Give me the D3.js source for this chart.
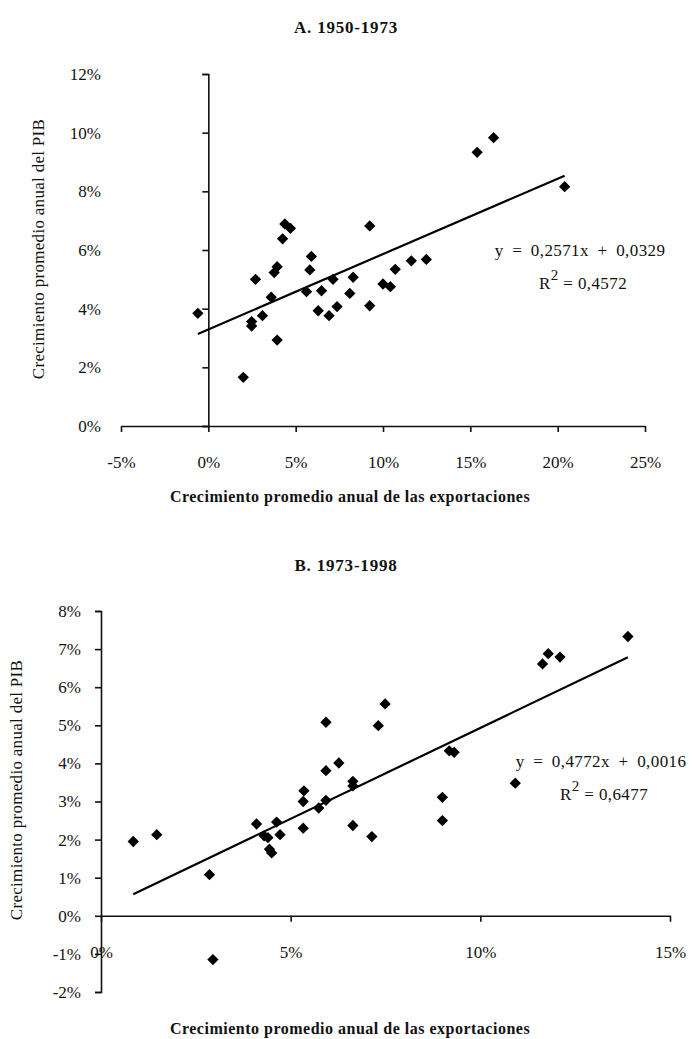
<!DOCTYPE html>
<html>
<head>
<meta charset="utf-8">
<script src="https://cdn.jsdelivr.net/npm/d3@7"></script>
<style>
  body { margin: 0; background: #fff; }
  svg text { font-family: "Liberation Serif", "Times New Roman", serif; fill: #111; }
</style>
</head>
<body>
<svg id="chart" width="692" height="1039"></svg>
<script>
// panel A: 1950-1973 (values in %)
const exportsA = [-0.6, 2.0, 2.48, 2.48, 2.7, 3.1, 3.6, 3.77, 3.94, 3.94, 4.25, 4.38, 4.7, 5.62, 5.81, 5.9, 6.29, 6.48, 6.91, 7.14, 7.37, 8.1, 8.29, 9.24, 9.24, 10.0, 10.42, 10.7, 11.62, 12.48, 15.39, 16.33, 20.4];
const gdpA     = [3.84, 1.66, 3.56, 3.41, 5.0, 3.76, 4.39, 5.23, 5.43, 2.93, 6.38, 6.89, 6.74, 4.58, 5.32, 5.78, 3.93, 4.61, 3.76, 5.0, 4.07, 4.52, 5.07, 6.82, 4.1, 4.84, 4.75, 5.34, 5.63, 5.68, 9.33, 9.83, 8.16];
const trendA = [0.2571, 0.0329];
const r2A = '0,4572';
const xTicksA = [-5, 0, 5, 10, 15, 20, 25];
const yTicksA = [0, 2, 4, 6, 8, 10, 12];

// panel B: 1973-1998 (values in %)
const exportsB = [0.85, 1.47, 2.86, 2.95, 4.1, 4.3, 4.4, 4.44, 4.5, 4.63, 4.72, 5.33, 5.33, 5.35, 5.74, 5.93, 5.93, 5.93, 6.27, 6.64, 6.64, 6.64, 7.14, 7.31, 7.49, 9.0, 9.0, 9.18, 9.31, 10.92, 11.64, 11.79, 12.1, 13.89];
const gdpB     = [1.95, 2.13, 1.08, -1.15, 2.41, 2.1, 2.05, 1.75, 1.65, 2.46, 2.13, 2.3, 3.0, 3.28, 2.83, 3.03, 3.81, 5.08, 4.01, 3.53, 3.41, 2.37, 2.08, 4.99, 5.56, 3.11, 2.5, 4.33, 4.29, 3.48, 6.61, 6.88, 6.79, 7.33];
const trendB = [0.4772, 0.0016];
const r2B = '0,6477';
const xTicksB = [0, 5, 10, 15];
const yTicksB = [-2, -1, 0, 1, 2, 3, 4, 5, 6, 7, 8];

const yTitle = 'Crecimiento promedio anual del PIB';
const xTitle = 'Crecimiento promedio anual de las exportaciones';

const svg = d3.select('#chart');
const pct = d => d + '%';
const comma = v => v.toFixed(4).replace('.', ',');

function panel(opt) {
  const { xs, ys, trend, r2, x, y, xTicks, yTicks } = opt;
  const g = svg.append('g');

  // title
  g.append('text')
    .attr('x', 346).attr('y', opt.titleY)
    .attr('text-anchor', 'middle')
    .style('font-size', '17px').style('font-weight', 'bold')
    .style('letter-spacing', '0.8px')
    .text(opt.title);

  // y axis line + tick marks (crosses at x = 0)
  g.append('g')
    .attr('transform', `translate(${x(0)},0)`)
    .call(d3.axisLeft(y).tickValues(yTicks).tickSize(6).tickFormat(''))
    .call(a => a.selectAll('path, line').attr('stroke', '#111').attr('stroke-width', 1.6));

  // y tick labels at the low end of the x range
  g.append('g')
    .attr('transform', `translate(${x(x.domain()[0])},0)`)
    .call(d3.axisLeft(y).tickValues(yTicks).tickSize(0).tickPadding(20).tickFormat(pct))
    .call(a => a.select('.domain').remove())
    .call(a => a.selectAll('text').style('font-size', '17px').style('font-family', '"Liberation Serif", serif'));

  // x axis line + tick marks (crosses at y = 0)
  g.append('g')
    .attr('transform', `translate(0,${y(0)})`)
    .call(d3.axisBottom(x).tickValues(xTicks).tickSize(6).tickSizeOuter(0).tickPadding(24).tickFormat(pct))
    .call(a => a.selectAll('path, line').attr('stroke', '#111').attr('stroke-width', 1.6))
    .call(a => a.selectAll('text').style('font-size', '17px').style('font-family', '"Liberation Serif", serif'));

  // axis titles
  g.append('text')
    .attr('transform', `translate(${opt.yTitleX},${opt.yTitleY}) rotate(-90)`)
    .attr('text-anchor', 'middle')
    .style('font-size', '17px').style('letter-spacing', '0.3px')
    .text(yTitle);
  g.append('text')
    .attr('x', 350).attr('y', opt.xTitleY)
    .attr('text-anchor', 'middle')
    .style('font-size', '16px').style('font-weight', 'bold')
    .style('letter-spacing', '0.5px')
    .text(xTitle);

  // points
  const pts = xs.map((v, i) => ({ x: v, y: ys[i] }));
  g.append('g').selectAll('path')
    .data(pts)
    .join('path')
    .attr('d', d3.symbol(d3.symbolSquare, 64))
    .attr('transform', d => `translate(${x(d.x)},${y(d.y)}) rotate(45)`)
    .attr('fill', '#000');

  // linear trend line over the data range
  const ext = d3.extent(xs);
  const line = d3.line().x(d => x(d)).y(d => y(trend[0] * d + trend[1] * 100));
  g.append('path')
    .datum(ext)
    .attr('d', line)
    .attr('fill', 'none')
    .attr('stroke', '#000')
    .attr('stroke-width', 2.2);

  // equation
  g.append('text')
    .attr('x', opt.eqX).attr('y', opt.eqY)
    .attr('text-anchor', 'middle')
    .style('font-size', '17px').style('word-spacing', '4px').style('letter-spacing', '0.4px')
    .text(`y = ${comma(trend[0])}x + ${comma(trend[1])}`);
  const rt = g.append('text')
    .attr('x', opt.eqX + 3).attr('y', opt.eqY + 33)
    .attr('text-anchor', 'middle')
    .style('font-size', '17px').style('letter-spacing', '0.4px');
  rt.append('tspan').text('R');
  rt.append('tspan').attr('dy', -9).style('font-size', '15px').text('2');
  rt.append('tspan').attr('dy', 9).text(' = ' + r2);
}

panel({
  title: 'A. 1950-1973', titleY: 33,
  xs: exportsA, ys: gdpA, trend: trendA, r2: r2A,
  x: d3.scaleLinear().domain([-5, 25]).range([121, 645]),
  y: d3.scaleLinear().domain([0, 12]).range([426, 74]),
  xTicks: xTicksA, yTicks: yTicksA,
  yTitleX: 44, yTitleY: 249, xTitleY: 502,
  eqX: 580, eqY: 256
});

panel({
  title: 'B. 1973-1998', titleY: 571,
  xs: exportsB, ys: gdpB, trend: trendB, r2: r2B,
  x: d3.scaleLinear().domain([0, 15]).range([101, 670]),
  y: d3.scaleLinear().domain([-2, 8]).range([992, 611]),
  xTicks: xTicksB, yTicks: yTicksB,
  yTitleX: 22, yTitleY: 790, xTitleY: 1034,
  eqX: 601, eqY: 767
});
</script>
</body>
</html>
